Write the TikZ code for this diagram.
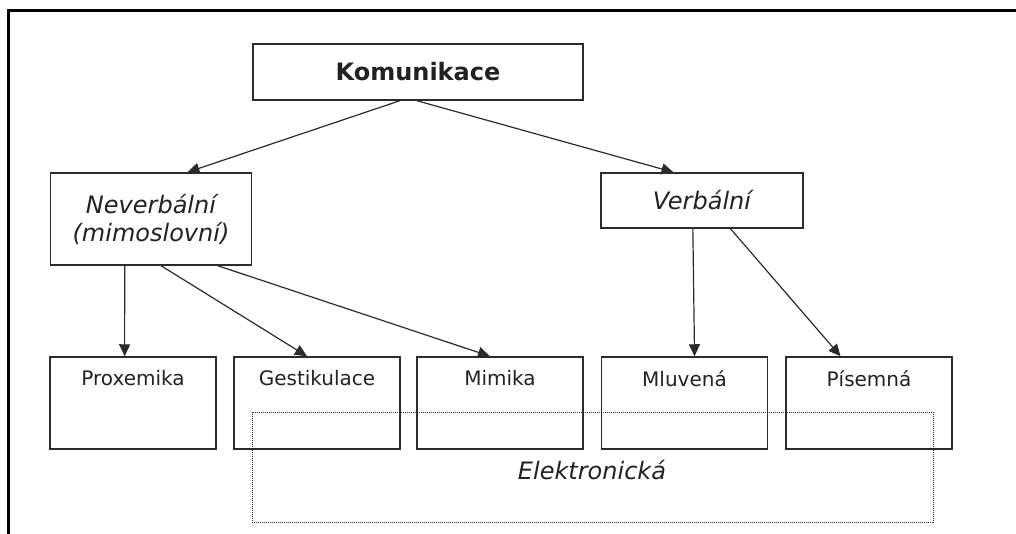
\documentclass[tikz,border=0pt]{standalone}
\usepackage{fontspec}
\setmainfont{DejaVu Sans}
\usetikzlibrary{arrows.meta, calc}
\definecolor{boxline}{HTML}{2b2b2b}
\definecolor{labeltext}{HTML}{222222}
\tikzset{
  topbox/.style={draw=boxline, line width=0.75pt, minimum width=165pt, minimum height=28pt, inner sep=0pt, font=\fontsize{12}{14}\selectfont\bfseries, text=labeltext},
  midbox/.style={draw=boxline, line width=0.75pt, minimum width=100.5pt, inner sep=0pt, font=\fontsize{12}{14}\selectfont\itshape, text=labeltext, align=center},
  leafbox/.style={draw=boxline, line width=0.75pt, minimum width=83pt, minimum height=46pt, inner sep=0pt,
    label={[anchor=north, inner sep=0pt, yshift=-7pt, font=\fontsize{10}{12}\selectfont, text=labeltext]north:#1}},
  link/.style={-{Triangle[length=6pt, width=5.5pt]}, line width=0.6pt, color=boxline},
  every node/.append style={text=labeltext}
}

\begin{document}
\begin{tikzpicture}[x=0.5pt, y=-0.5pt]
\useasboundingbox (0,0) rectangle (1016,534);
% frame of the page
\draw[line width=1.5pt, black] (8,534) -- (8,11) -- (1016,11);
% boxes
\node[topbox] (komm) at (418,72) {Komunikace};
\node[midbox, minimum height=46pt] (never) at (151,219) {Neverbální\\(mimoslovní)};
\node[midbox, minimum width=101pt, minimum height=27.5pt] (verb) at (702,200.5) {Verbální};
\node[leafbox=Proxemika] (prox) at (133,403) {};
\node[leafbox=Gestikulace] (gest) at (317,403) {};
\node[leafbox=Mimika] (mimi) at (500,403) {};
\node[leafbox=Mluvená] (mluv) at (684.5,403) {};
\node[leafbox=Písemná] (pise) at (869,403) {};
% arrows
\draw[link] ($(komm.south west)!0.445!(komm.south east)$) -- ($(never.north west)!0.68!(never.north east)$);
\draw[link] ($(komm.south west)!0.497!(komm.south east)$) -- ($(verb.north west)!0.36!(verb.north east)$);
\draw[link] ($(never.south west)!0.37!(never.south east)$) -- ($(prox.north west)!0.45!(prox.north east)$);
\draw[link] ($(never.south west)!0.55!(never.south east)$) -- ($(gest.north west)!0.44!(gest.north east)$);
\draw[link] ($(never.south west)!0.83!(never.south east)$) -- ($(mimi.north west)!0.44!(mimi.north east)$);
\draw[link] ($(verb.south west)!0.455!(verb.south east)$) -- ($(mluv.north west)!0.56!(mluv.north east)$);
\draw[link] ($(verb.south west)!0.64!(verb.south east)$) -- ($(pise.north west)!0.33!(pise.north east)$);
% electronic overlay
\draw[boxline, line width=0.5pt, dash pattern=on 0.5pt off 0.5pt] (252,412) rectangle (933,522);
\node[font=\fontsize{12}{14}\selectfont\itshape] (elek) at (592,470) {Elektronická};
\end{tikzpicture}
\end{document}
